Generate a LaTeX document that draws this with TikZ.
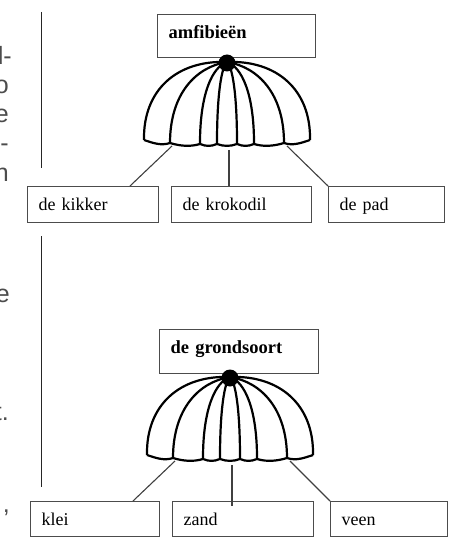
\documentclass[tikz,border=0pt]{standalone}
\usepackage{fontspec}
\setmainfont{Liberation Serif}
\newfontfamily\sidefont{Liberation Sans}
\usetikzlibrary{calc}
\tikzset{
  umbrella/.pic={
    \draw[rib] (0,0) .. controls (-50,-2) and (-84,28) .. (-83,78);
    \draw[rib] (0,0) .. controls (50,-2) and (84,28) .. (83,78);
    \foreach \d in {-57,-27,-10,10,27,57}
      \draw[rib] (0,0) .. controls ({\d*0.55},5) and (\d,32) .. (\d,81);
    \draw[rib] (-83,78) .. controls +(9,3) and +(-9,3) .. (-57,81)
      .. controls +(10,3) and +(-10,3) .. (-27,82)
      .. controls +(6,2.5) and +(-6,2.5) .. (-10,82)
      .. controls +(7,2.5) and +(-7,2.5) .. (10,82)
      .. controls +(6,2.5) and +(-6,2.5) .. (27,82)
      .. controls +(10,3) and +(-10,3) .. (57,81)
      .. controls +(9,3) and +(-9,3) .. (83,78);
    \fill[black] (0,1) circle[radius=8.5pt];
    \coordinate (-l) at (-55,84);
    \coordinate (-m) at (2,88);
    \coordinate (-r) at (60,84);
  }
}
\begin{document}
\begin{tikzpicture}[x=1pt,y=-1pt,
  box/.style={draw=black!70, line width=1.2pt, inner xsep=11pt, inner ysep=0pt,
    align=left, font=\fontsize{18}{20}\selectfont, text height=12pt, text depth=0pt,
    anchor=north west},
  headbox/.style={box, font=\bfseries\fontsize{18.5}{20}\selectfont,
    text height=10pt, text depth=6pt},
  rib/.style={line width=2.2pt, black},
  link/.style={line width=1.1pt, black!75},
  margin/.style={line width=1pt, black!85},
  frag/.style={anchor=base east, inner sep=0pt, font=\sidefont\fontsize{25}{25}\selectfont, text=black!70}]
\useasboundingbox (0,0) rectangle (454,537);

% margin fragments of the cut text
\node[frag] (f1) at (12,65) {d-};
\node[frag] (f2) at (9,94) {o};
\node[frag] (f3) at (9,123) {e};
\node[frag] (f4) at (9,152) {n-};
\node[frag] (f5) at (9,182) {n};
\node[frag] (f6) at (10,302) {e};
\node[frag] (f7) at (9,420) {t.};
\node[frag] (f8) at (10,512) {,};

% margin lines
\coordinate (m1a) at (41,12);
\coordinate (m1b) at (41,168);
\coordinate (m2a) at (41,236);
\coordinate (m2b) at (41,487);
\draw[margin] (m1a) -- (m1b);
\draw[margin] (m2a) -- (m2b);

% first diagram
\node[headbox, minimum height=43pt, text width=136pt] (t1) at (157,14) {amfibieën};
\pic (u1) at (227,62) {umbrella};
\node[box, minimum height=36pt, text width=109pt] (k1) at (27,186) {de kikker};
\node[box, minimum height=36pt, text width=118pt] (k2) at (171,186) {de krokodil};
\node[box, minimum height=36pt, text width=94pt] (k3) at (328,186) {de pad};
\draw[link] (u1-l) -- ($(k1.north west)+(103,0)$);
\draw[link] (u1-m) -- (u1-m |- k2.north);
\draw[link] (u1-r) -- (k3.north west);

% second diagram
\node[headbox, minimum height=44pt, text width=137pt] (t2) at (159,329) {de grondsoort};
\pic (u2) at (230,377) {umbrella};
\node[box, minimum height=35pt, text width=107pt] (g1) at (30,501) {klei};
\node[box, minimum height=35pt, text width=119pt] (g2) at (172,501) {zand};
\node[box, minimum height=35pt, text width=95pt] (g3) at (330,501) {veen};
\draw[link] (u2-l) -- ($(g1.north west)+(103,0)$);
\draw[link] (u2-m) -- ($(u2-m |- g2.north)+(0,5)$);
\draw[link] (u2-r) -- (g3.north west);
\end{tikzpicture}
\end{document}
